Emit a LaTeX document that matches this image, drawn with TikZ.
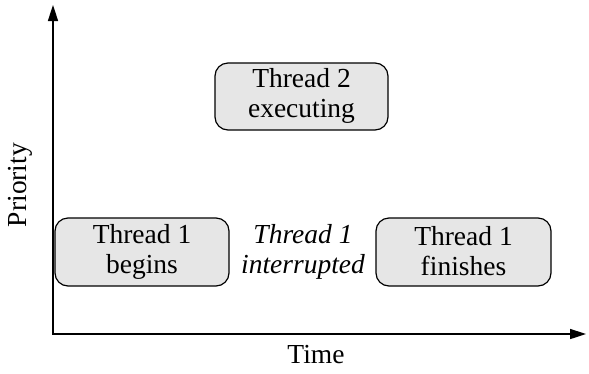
\documentclass[tikz,border=0pt]{standalone}
\usepackage{fontspec}
\setmainfont{Liberation Serif}
\usetikzlibrary{arrows.meta}
\definecolor{boxgray}{HTML}{E6E6E6}
\begin{document}
\begin{tikzpicture}[x=1pt,y=-1pt,
  tbox/.style={draw=black, line width=1.2pt, fill=boxgray, rounded corners=13pt, inner sep=0pt},
  lbl/.style={font=\fontsize{27.5}{30}\selectfont, align=center},
  axis/.style={line width=1.6pt, -{Triangle[length=16pt,width=10pt]}}]
\useasboundingbox (0,0) rectangle (589,373);
\coordinate (o) at (53,334);
\coordinate (ytip) at (53,5);
\coordinate (xtip) at (586,334);
\draw[axis] (o) -- (ytip);
\draw[axis] ([xshift=-0.8pt]o) -- (xtip);
\draw[tbox] (215,63) rectangle (388,130);
\node[lbl] (t2) at (301.5,96) {Thread 2\\executing};
\draw[tbox] (55,218) rectangle (229,286);
\node[lbl] (t1b) at (142,251.5) {Thread 1\\begins};
\draw[tbox] (376,218) rectangle (551,286);
\node[lbl] (t1f) at (463.5,251.5) {Thread 1\\finishes};
\node[lbl, font=\fontsize{27.5}{30}\selectfont\itshape] (int) at (303,251.5) {Thread 1\\interrupted};
\node[lbl] (time) at (316,355) {Time};
\node[lbl, rotate=90] (prio) at (20,185) {Priority};
\end{tikzpicture}
\end{document}
